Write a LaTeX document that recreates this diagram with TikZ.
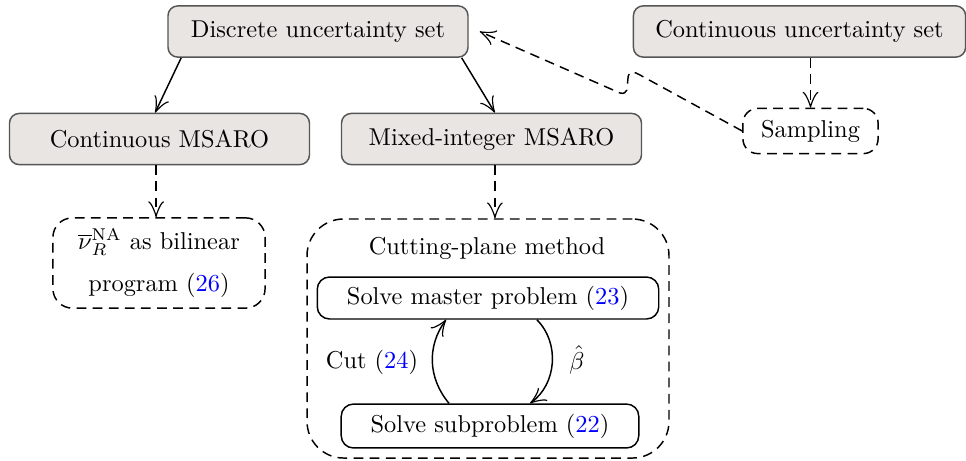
\documentclass[tikz,border=0pt]{standalone}
\usetikzlibrary{arrows.meta,calc}
\definecolor{boxfill}{RGB}{232,229,227}
\definecolor{boxdraw}{RGB}{85,85,85}
\begin{document}
\begin{tikzpicture}[x=0.41pt,y=0.41pt,
  graybox/.style={draw=boxdraw, fill=boxfill, rounded corners=4pt, line width=0.6pt,
    minimum width=123pt, minimum height=21pt, inner xsep=9pt},
  mydash/.style={dash pattern=on 4pt off 2.6pt},
  dbox/.style={draw, mydash, line width=0.6pt},
  plainbox/.style={draw, rounded corners=5pt, line width=0.6pt},
  arr/.style={-{Classical TikZ Rightarrow[length=6.5pt,width=6.5pt]}, line width=0.6pt},
  lbl/.style={inner sep=0pt}]
\useasboundingbox (0,0) rectangle (966,-460);
% top level
\node[graybox] (disc) at (318,-31.5) {Discrete uncertainty set};
\node[graybox] (cus) at (799.5,-31.5) {Continuous uncertainty set};
\node[graybox] (cms) at (159.5,-139) {Continuous MSARO};
\node[graybox] (mix) at (491.5,-139) {Mixed-integer MSARO};
\node[dbox, rounded corners=6pt, minimum width=55.4pt, minimum height=18.5pt, inner sep=2pt] (samp) at (810.5,-131) {Sampling};
\node[dbox, rounded corners=8pt, minimum width=87pt, minimum height=37pt, align=center, inner sep=2pt] (nu) at (159,-263)
  {$\overline{\nu}_R^{\mathrm{NA}}$ as bilinear\\[5pt] program (\textcolor{blue}{26})};
% cutting plane box
\node[dbox, rounded corners=15pt, minimum width=148.4pt, minimum height=98pt] (cpm) at (488,-338.5) {};
\node[lbl] (cpt) at (487,-248) {Cutting-plane method};
\node[plainbox, minimum width=140pt, minimum height=17.2pt, inner sep=2pt] (master) at (488,-298) {Solve master problem (\textcolor{blue}{23})};
\node[plainbox, minimum width=122pt, minimum height=18pt, inner sep=2pt] (sub) at (490,-426) {Solve subproblem (\textcolor{blue}{22})};
% connectors
\draw[arr] ([xshift=5.7pt]disc.south west) -- ([xshift=-1.8pt]cms.north);
\draw[arr] ([xshift=-2.9pt]disc.south east) -- ([xshift=1.4pt]mix.north);
\draw[arr, mydash] ([xshift=-1.4pt]cms.south) -- ([xshift=-1.4pt]cms.south |- nu.north);
\draw[arr, mydash] ([xshift=1.4pt]mix.south) -- ([xshift=1.4pt]mix.south |- cpm.north);
\draw[arr, mydash] (cus.south -| samp.north) -- (samp.north);
\coordinate (k1) at (640,-75);
\coordinate (k2) at (620,-93);
\coordinate (dend) at ($(disc.east)+(11,0)$);
\draw[arr, mydash] (samp.west) -- (k1) .. controls (618,-62) and (636,-97) .. (k2) -- (dend);
\draw[arr] ([xshift=-16.8pt]sub.north) to[bend left=38] ([xshift=-17.2pt]master.south);
\draw[arr] ([xshift=20pt]master.south) to[bend left=50] ([xshift=16.4pt]sub.north);
\node[lbl] (cutl) at (372,-362) {Cut (\textcolor{blue}{24})};
\node[lbl] (betal) at (577,-360) {$\hat{\beta}$};
\end{tikzpicture}
\end{document}
